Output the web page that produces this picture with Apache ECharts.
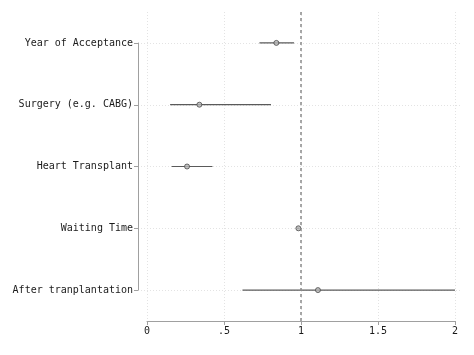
<!DOCTYPE html>
<html>
<head>
<meta charset="utf-8">
<script src="https://cdn.jsdelivr.net/npm/echarts@6/dist/echarts.min.js"></script>
<style>
  html, body { margin: 0; padding: 0; background: #fff; }
  #main { width: 474px; height: 355px; }
</style>
</head>
<body>
<div id="main"></div>
<script>
var categories = ['Year of Acceptance', 'Surgery (e.g. CABG)', 'Heart Transplant', 'Waiting Time', 'After tranplantation'];
var estimates = [0.84, 0.34, 0.26, 0.983, 1.11];
var lower = [0.73, 0.15, 0.16, 0.975, 0.62];
var upper = [0.955, 0.805, 0.425, 0.99, 2.0];
var xTicks = ['0', '.5', '1', '1.5', '2'];

var font = 'DejaVu Sans Mono';
var axisGray = '#a0a0a0';
var markGray = '#5a5a5a';

var myChart = echarts.init(document.getElementById('main'), null, { renderer: 'canvas' });

var ciData = categories.map(function (c, i) { return [lower[i], upper[i], i]; });
var ptData = categories.map(function (c, i) { return [estimates[i], i]; });

var option = {
  animation: false,
  backgroundColor: '#fff',
  grid: [
    // plotting region
    { left: 147, right: 19, top: 12, bottom: 34 },
    // decoration for the y axis (line spans first to last category)
    { left: 138, right: 12, top: 43, bottom: 65 }
  ],
  xAxis: [{
    gridIndex: 0,
    type: 'value',
    min: 0,
    max: 2,
    interval: 0.5,
    axisLine: { show: true, lineStyle: { color: axisGray, width: 1 } },
    axisTick: { show: true, length: 4, lineStyle: { color: axisGray } },
    axisLabel: {
      color: '#1a1a1a', fontFamily: font, fontSize: 10, margin: 5,
      formatter: function (v) { return xTicks[Math.round(v * 2)]; }
    },
    splitLine: { show: true, lineStyle: { color: '#e3e3e3', type: [1, 2] } }
  }, {
    gridIndex: 1,
    type: 'value',
    show: false,
    min: 0,
    max: 2
  }],
  yAxis: [{
    gridIndex: 0,
    type: 'category',
    data: categories,
    inverse: true,
    boundaryGap: true,
    show: false
  }, {
    gridIndex: 1,
    type: 'category',
    data: categories,
    inverse: true,
    boundaryGap: false,
    axisLine: { show: true, lineStyle: { color: axisGray, width: 1 } },
    axisTick: { show: true, length: 4, lineStyle: { color: axisGray } },
    axisLabel: { color: '#1a1a1a', fontFamily: font, fontSize: 10, margin: 5 },
    splitLine: { show: true, lineStyle: { color: '#e3e3e3', type: [1, 2] } }
  }],
  series: [{
    type: 'custom',
    xAxisIndex: 0,
    yAxisIndex: 0,
    data: ciData,
    renderItem: function (params, api) {
      var p1 = api.coord([api.value(0), api.value(2)]);
      var p2 = api.coord([api.value(1), api.value(2)]);
      return {
        type: 'line',
        shape: { x1: p1[0], y1: p1[1], x2: p2[0], y2: p2[1] },
        style: { stroke: markGray, lineWidth: 1.2 }
      };
    },
    markLine: {
      silent: true,
      symbol: 'none',
      label: { show: false },
      lineStyle: { color: '#8a8a8a', type: [3, 3], width: 1.5 },
      data: [{ xAxis: 1 }]
    },
    z: 2
  }, {
    type: 'scatter',
    xAxisIndex: 0,
    yAxisIndex: 0,
    data: ptData,
    symbol: 'circle',
    symbolSize: 5,
    itemStyle: { color: '#b5b5b5', borderColor: '#4a4a4a', borderWidth: 1 },
    z: 3
  }]
};

myChart.setOption(option);
</script>
</body>
</html>
